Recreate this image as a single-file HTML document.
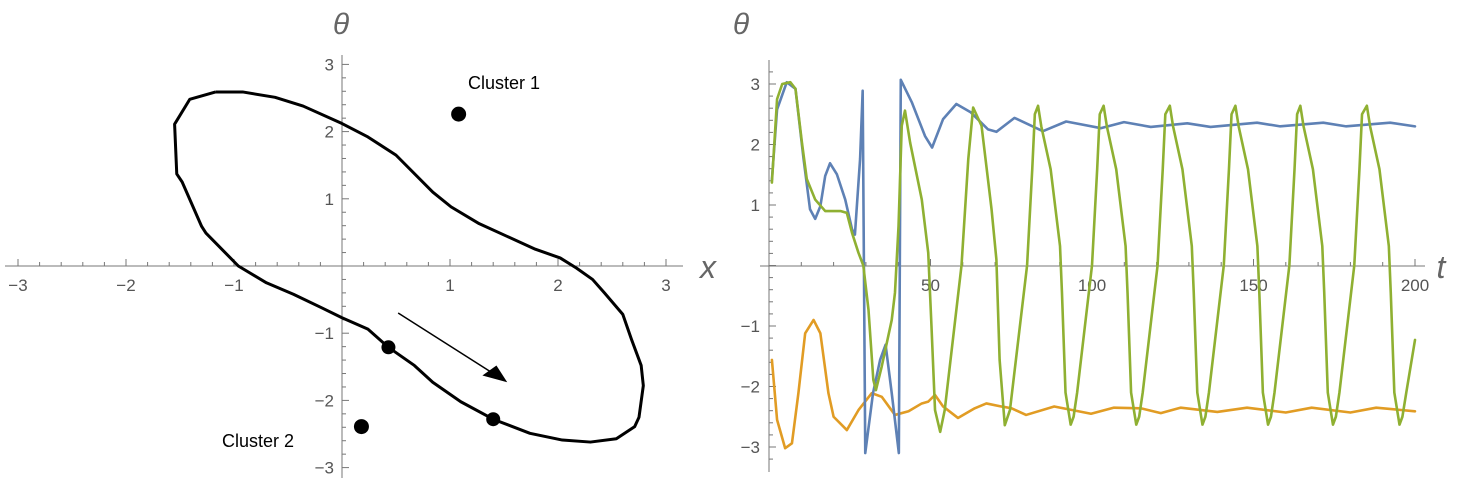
<!DOCTYPE html>
<html><head><meta charset="utf-8"><style>
body{margin:0;background:#fff;width:1458px;height:484px;overflow:hidden}
svg{display:block;font-family:"Liberation Sans",sans-serif}
</style></head><body>
<svg id="chart" width="1458" height="484">
<g id="left"></g>
<g id="right"></g>
</svg>
<script>
// ---- Left plot data ----
const loopX = [-1.17,-0.92,-0.62,-0.36,0,0.24,0.5,0.84,1.01,1.27,1.53,1.79,2.02,2.17,2.32,2.43,2.6,2.68,2.77,2.79,2.75,2.71,2.54,2.3,2.04,1.74,1.40,1.10,0.84,0.67,0.43,0.24,0,-0.19,-0.45,-0.7,-0.96,-1.26,-1.3,-1.48,-1.53,-1.55,-1.41,-1.17];
const loopY = [2.59,2.59,2.51,2.38,2.12,1.92,1.65,1.10,0.88,0.63,0.44,0.25,0.12,-0.03,-0.2,-0.4,-0.72,-1.09,-1.48,-1.78,-2.25,-2.39,-2.57,-2.62,-2.59,-2.49,-2.28,-2.02,-1.73,-1.48,-1.21,-0.94,-0.77,-0.62,-0.42,-0.25,0,0.49,0.59,1.25,1.37,2.11,2.48,2.59];
const dotX = [0.43,1.40];
const dotY = [-1.21,-2.28];
const clusterX = [1.08,0.18];
const clusterY = [2.26,-2.39];
const clusterNames = ["Cluster 1","Cluster 2"];
const leftTicks = [-3,-2,-1,1,2,3];
// ---- Right plot data ----
const blueT = [0.9,2.5,5.5,8.2,10.7,12.7,14.3,15.9,17.4,18.9,21,23.6,25.7,26.6,28.2,29,29.3,29.8,32.2,34.4,36.1,38,40.2,40.5,40.8,44.2,48.3,50.5,53.9,58,62.5,67.8,70.4,76,84.8,92,102.8,109.9,118.2,129.5,136.7,151.1,158.3,171.6,178.7,192.3,200];
const blueV = [1.42,2.58,3.03,2.92,1.76,0.93,0.77,0.98,1.48,1.69,1.51,1.09,0.6,0.51,1.76,2.89,0.65,-3.1,-2.11,-1.56,-1.31,-2.11,-3.1,0,3.07,2.7,2.14,1.95,2.42,2.67,2.53,2.25,2.21,2.44,2.22,2.38,2.27,2.37,2.29,2.35,2.29,2.36,2.3,2.36,2.3,2.36,2.3];
const orangeT = [0.9,2.5,5,7.1,9.1,11.2,13.8,15.9,18.4,20,24.1,27.7,31.8,34.9,39,43.2,47.3,49.3,51.4,53.9,58.5,63.7,67.3,71.9,75.1,79.6,88.3,99.7,106.8,115.1,121.3,127.5,138.8,148,160,168,180,188,200];
const orangeV = [-1.56,-2.55,-3.02,-2.94,-2.11,-1.12,-0.9,-1.12,-2.11,-2.5,-2.72,-2.39,-2.11,-2.17,-2.47,-2.41,-2.28,-2.25,-2.14,-2.33,-2.52,-2.36,-2.28,-2.33,-2.36,-2.47,-2.33,-2.45,-2.35,-2.36,-2.44,-2.35,-2.42,-2.35,-2.43,-2.35,-2.43,-2.35,-2.41];
const greenT = [0.9,2.5,4.1,6.6,8.2,10.2,11.7,14.3,17.4,22.1,24.1,25.7,27.7,29.2,30.8,32.3,33.1,34.9,38,39,40.1,41.1,42.1,43.7,47.3,49.3,50.3,51.4,53,54.4,59.6,61.7,63.2,65.8,68.9,70.4,71.4,73,74.6,79.9,81.5,82.3,
83.3,84.3,87.2,90.1,90.7,91.8,93.4,94.3,95.4,100,101.6,102.4,
103.6,104.6,107.5,110.4,111,112.1,113.7,114.6,115.7,120.3,121.9,122.7,
124.1,125.1,128,130.9,131.5,132.6,134.2,135.1,136.2,140.8,142.4,143.2,
144.4,145.4,148.3,151.2,151.8,152.9,154.5,155.4,156.5,161.1,162.7,163.5,
164.5,165.5,168.4,171.3,171.9,173,174.6,175.5,176.6,181.2,182.8,183.6,
185.1,186.1,189,191.9,192.5,193.6,195.2,196.1,197.3,200];
const greenV = [1.37,2.75,3.0,3.03,2.92,2.03,1.43,1.09,0.9,0.9,0.87,0.54,0.21,0,-0.73,-1.89,-2.06,-1.67,-0.9,-0.45,0.65,2.31,2.56,2.03,1.09,0.21,-1.0,-2.39,-2.75,-2.39,0,1.76,2.61,2.31,0.93,0.1,-1.56,-2.64,-2.39,0,1.59,2.5,
2.64,2.3,1.59,0.32,-0.45,-2.1,-2.63,-2.5,-2.1,0,1.59,2.5,
2.64,2.3,1.59,0.32,-0.45,-2.1,-2.63,-2.5,-2.1,0,1.59,2.5,
2.64,2.3,1.59,0.32,-0.45,-2.1,-2.63,-2.5,-2.1,0,1.59,2.5,
2.64,2.3,1.59,0.32,-0.45,-2.1,-2.63,-2.5,-2.1,0,1.59,2.5,
2.64,2.3,1.59,0.32,-0.45,-2.1,-2.63,-2.5,-2.1,0,1.59,2.5,
2.64,2.3,1.59,0.32,-0.45,-2.1,-2.63,-2.5,-2.1,-1.23];
const rightXTicks = [50,100,150,200];
const rightYTicks = [-3,-2,-1,1,2,3];

const NS="http://www.w3.org/2000/svg";
function mk(parent,tag,attrs){const e=document.createElementNS(NS,tag);for(const k in attrs)e.setAttribute(k,attrs[k]);parent.appendChild(e);return e;}
const AX="#777", LAB="#555", FS=17;

// ===== Left =====
const L=document.getElementById('left');
const lx=v=>342+108*v, ly=v=>266-67.2*v;
let e;
e=mk(L,'line',{x1:5,y1:266,x2:683,y2:266,stroke:AX,'stroke-width':1});


e=mk(L,'line',{x1:342,y1:55,x2:342,y2:478,stroke:AX,'stroke-width':1});


for(let i=-15;i<=15;i++){const v=i/5;const maj=i%5===0;
 mk(L,'line',{x1:lx(v),y1:266,x2:lx(v),y2:266-(maj?7:4),stroke:AX,'stroke-width':1});
 mk(L,'line',{x1:342,y1:ly(v),x2:342+(maj?7:4),y2:ly(v),stroke:AX,'stroke-width':1});}
leftTicks.forEach(v=>{
 e=mk(L,'text',{x:lx(v),y:291,'text-anchor':'middle','font-size':FS,fill:LAB});e.textContent=(v<0?'\u2212'+(-v):v);
 
 
 e=mk(L,'text',{x:334,y:ly(v)+6,'text-anchor':'end','font-size':FS,fill:LAB});e.textContent=(v<0?'\u2212'+(-v):v);
 
 
});
e=mk(L,'text',{x:341,y:34,'text-anchor':'middle','font-size':30,'font-style':'italic',fill:'#666'});e.textContent='θ';


e=mk(L,'text',{x:708,y:278,'text-anchor':'middle','font-size':32,'font-style':'italic',fill:'#666'});e.textContent='x';


e=mk(L,'polyline',{points:loopX.map((x,i)=>lx(x)+','+ly(loopY[i])).join(' '),fill:'none',stroke:'#000','stroke-width':3,'stroke-linejoin':'round'});


dotX.forEach((x,i)=>{e=mk(L,'circle',{cx:lx(x),cy:ly(dotY[i]),r:7,fill:'#000'});
 
 });
clusterX.forEach((x,i)=>{e=mk(L,'circle',{cx:lx(x),cy:ly(clusterY[i]),r:7.5,fill:'#000'});
 
 
 const t=mk(L,'text',{x:i===0?468:222,y:i===0?89:447,'font-size':18,fill:'#000'});t.textContent=clusterNames[i];
 
 });
e=mk(L,'line',{x1:lx(0.52),y1:ly(-0.70),x2:lx(1.47),y2:ly(-1.67),stroke:'#000','stroke-width':1.5});


e=mk(L,'polygon',{points:`${lx(1.53)},${ly(-1.73)} ${lx(1.30)},${ly(-1.63)} ${lx(1.43)},${ly(-1.48)}`,fill:'#000'});



// ===== Right =====
const R=document.getElementById('right');
const rx=t=>769+3.23*t, ry=v=>265.5-60.5*v;
e=mk(R,'line',{x1:760,y1:266,x2:1425,y2:266,stroke:AX,'stroke-width':1});


e=mk(R,'line',{x1:769,y1:60,x2:769,y2:472,stroke:AX,'stroke-width':1});


for(let t=10;t<=200;t+=10){const maj=t%50===0;mk(R,'line',{x1:rx(t),y1:266,x2:rx(t),y2:266-(maj?7:4),stroke:AX,'stroke-width':1});}
for(let i=-16;i<=16;i++){const v=i/5;const maj=i%5===0;mk(R,'line',{x1:769,y1:ry(v),x2:769+(maj?7:4),y2:ry(v),stroke:AX,'stroke-width':1});}
rightXTicks.forEach(t=>{e=mk(R,'text',{x:rx(t),y:291,'text-anchor':'middle','font-size':FS,fill:LAB});e.textContent=t;
 
 });
rightYTicks.forEach(v=>{e=mk(R,'text',{x:760,y:ry(v)+6,'text-anchor':'end','font-size':FS,fill:LAB});e.textContent=(v<0?'\u2212'+(-v):v);
 
 });
e=mk(R,'text',{x:741,y:34,'text-anchor':'middle','font-size':30,'font-style':'italic',fill:'#666'});e.textContent='θ';


e=mk(R,'text',{x:1441,y:278,'text-anchor':'middle','font-size':32,'font-style':'italic',fill:'#666'});e.textContent='t';


function series(T,V,col,name){const p=mk(R,'polyline',{points:T.map((t,i)=>rx(t)+','+ry(V[i])).join(' '),fill:'none',stroke:col,'stroke-width':2.6,'stroke-linejoin':'round','stroke-linecap':'round'});
 
 }
series(orangeT,orangeV,'#E19C24','series-orange');
series(blueT,blueV,'#5E81B5','series-blue');
series(greenT,greenV,'#8FB032','series-green');
</script>
</body></html>
